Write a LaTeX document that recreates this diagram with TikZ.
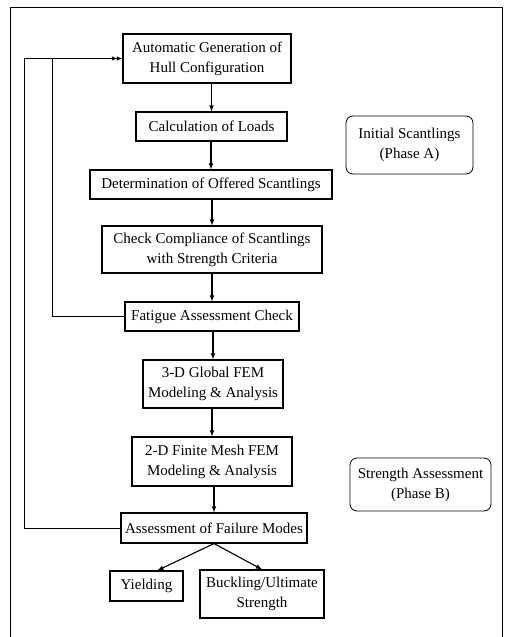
\documentclass[tikz,border=0pt]{standalone}
\usepackage{fontspec}
\setmainfont{Liberation Serif}
\usetikzlibrary{arrows}

\begin{document}
\begin{tikzpicture}[->,>=latex,x=1pt,y=-1pt,line width=1.1pt,
  box/.style={draw,align=center,inner sep=2pt,font=\fontsize{15}{20}\selectfont},
  phase/.style={draw,rounded corners=7pt,align=center,line width=0.8pt,font=\fontsize{15}{20}\selectfont}]

  \useasboundingbox (0,0) rectangle (504,637);
  \draw[-,line width=0.8pt] (10,637) -- (10,7) -- (502,7) -- (502,637);

  \node[box,minimum width=168,minimum height=49] (auto) at (207,58.5) {Automatic Generation of\\Hull Configuration};
  \node[box,minimum width=151,minimum height=29] (loads) at (211.5,126.5) {Calculation of Loads};
  \node[box,minimum width=242,minimum height=29] (offer) at (211,184.5) {Determination of Offered Scantlings};
  \node[box,minimum width=220,minimum height=47] (check) at (212,249.5) {Check Compliance of Scantlings\\with Strength Criteria};
  \node[box,minimum width=174,minimum height=29] (fatig) at (212,316.5) {Fatigue Assessment Check};
  \node[box,minimum width=140,minimum height=48] (glob) at (213,384) {3-D Global FEM\\Modeling \& Analysis};
  \node[box,minimum width=160,minimum height=49] (fine) at (212,461.5) {2-D Finite Mesh FEM\\Modeling \& Analysis};
  \node[box,minimum width=186,minimum height=30] (fail) at (214,528) {Assessment of Failure Modes};
  \node[box,minimum width=73,minimum height=30] (yield) at (146.5,586) {Yielding};
  \node[box,minimum width=124,minimum height=48] (buck) at (262,594) {Buckling/Ultimate\\Strength};

  \node[phase,minimum width=127,minimum height=58] (phA) at (409.5,145) {Initial Scantlings\\(Phase A)};
  \node[phase,minimum width=141,minimum height=53] (phB) at (420.5,484.5) {Strength Assessment\\(Phase B)};

  \coordinate (outer) at (24,528);
  \coordinate (inner) at (52,316.5);

  \path
    (loads.north |- auto.south) edge (loads.north)
    (offer.north |- loads.south) edge (offer.north)
    (check.north |- offer.south) edge (check.north)
    (fatig.north |- check.south) edge (fatig.north)
    (glob.north |- fatig.south) edge (glob.north)
    (fine.north |- glob.south) edge (fine.north)
    (fail.north |- fine.south) edge (fail.north)
    (fail.south) edge (yield.55)
    (fail.south) edge (buck.north);

  % feedback loops
  \draw[line width=0.9pt] (fail.west) -- (outer) |- (auto.west);
  \draw[line width=0.9pt,shorten >=5pt] (fatig.west) -- (inner) |- (auto.west);
\end{tikzpicture}
\end{document}
